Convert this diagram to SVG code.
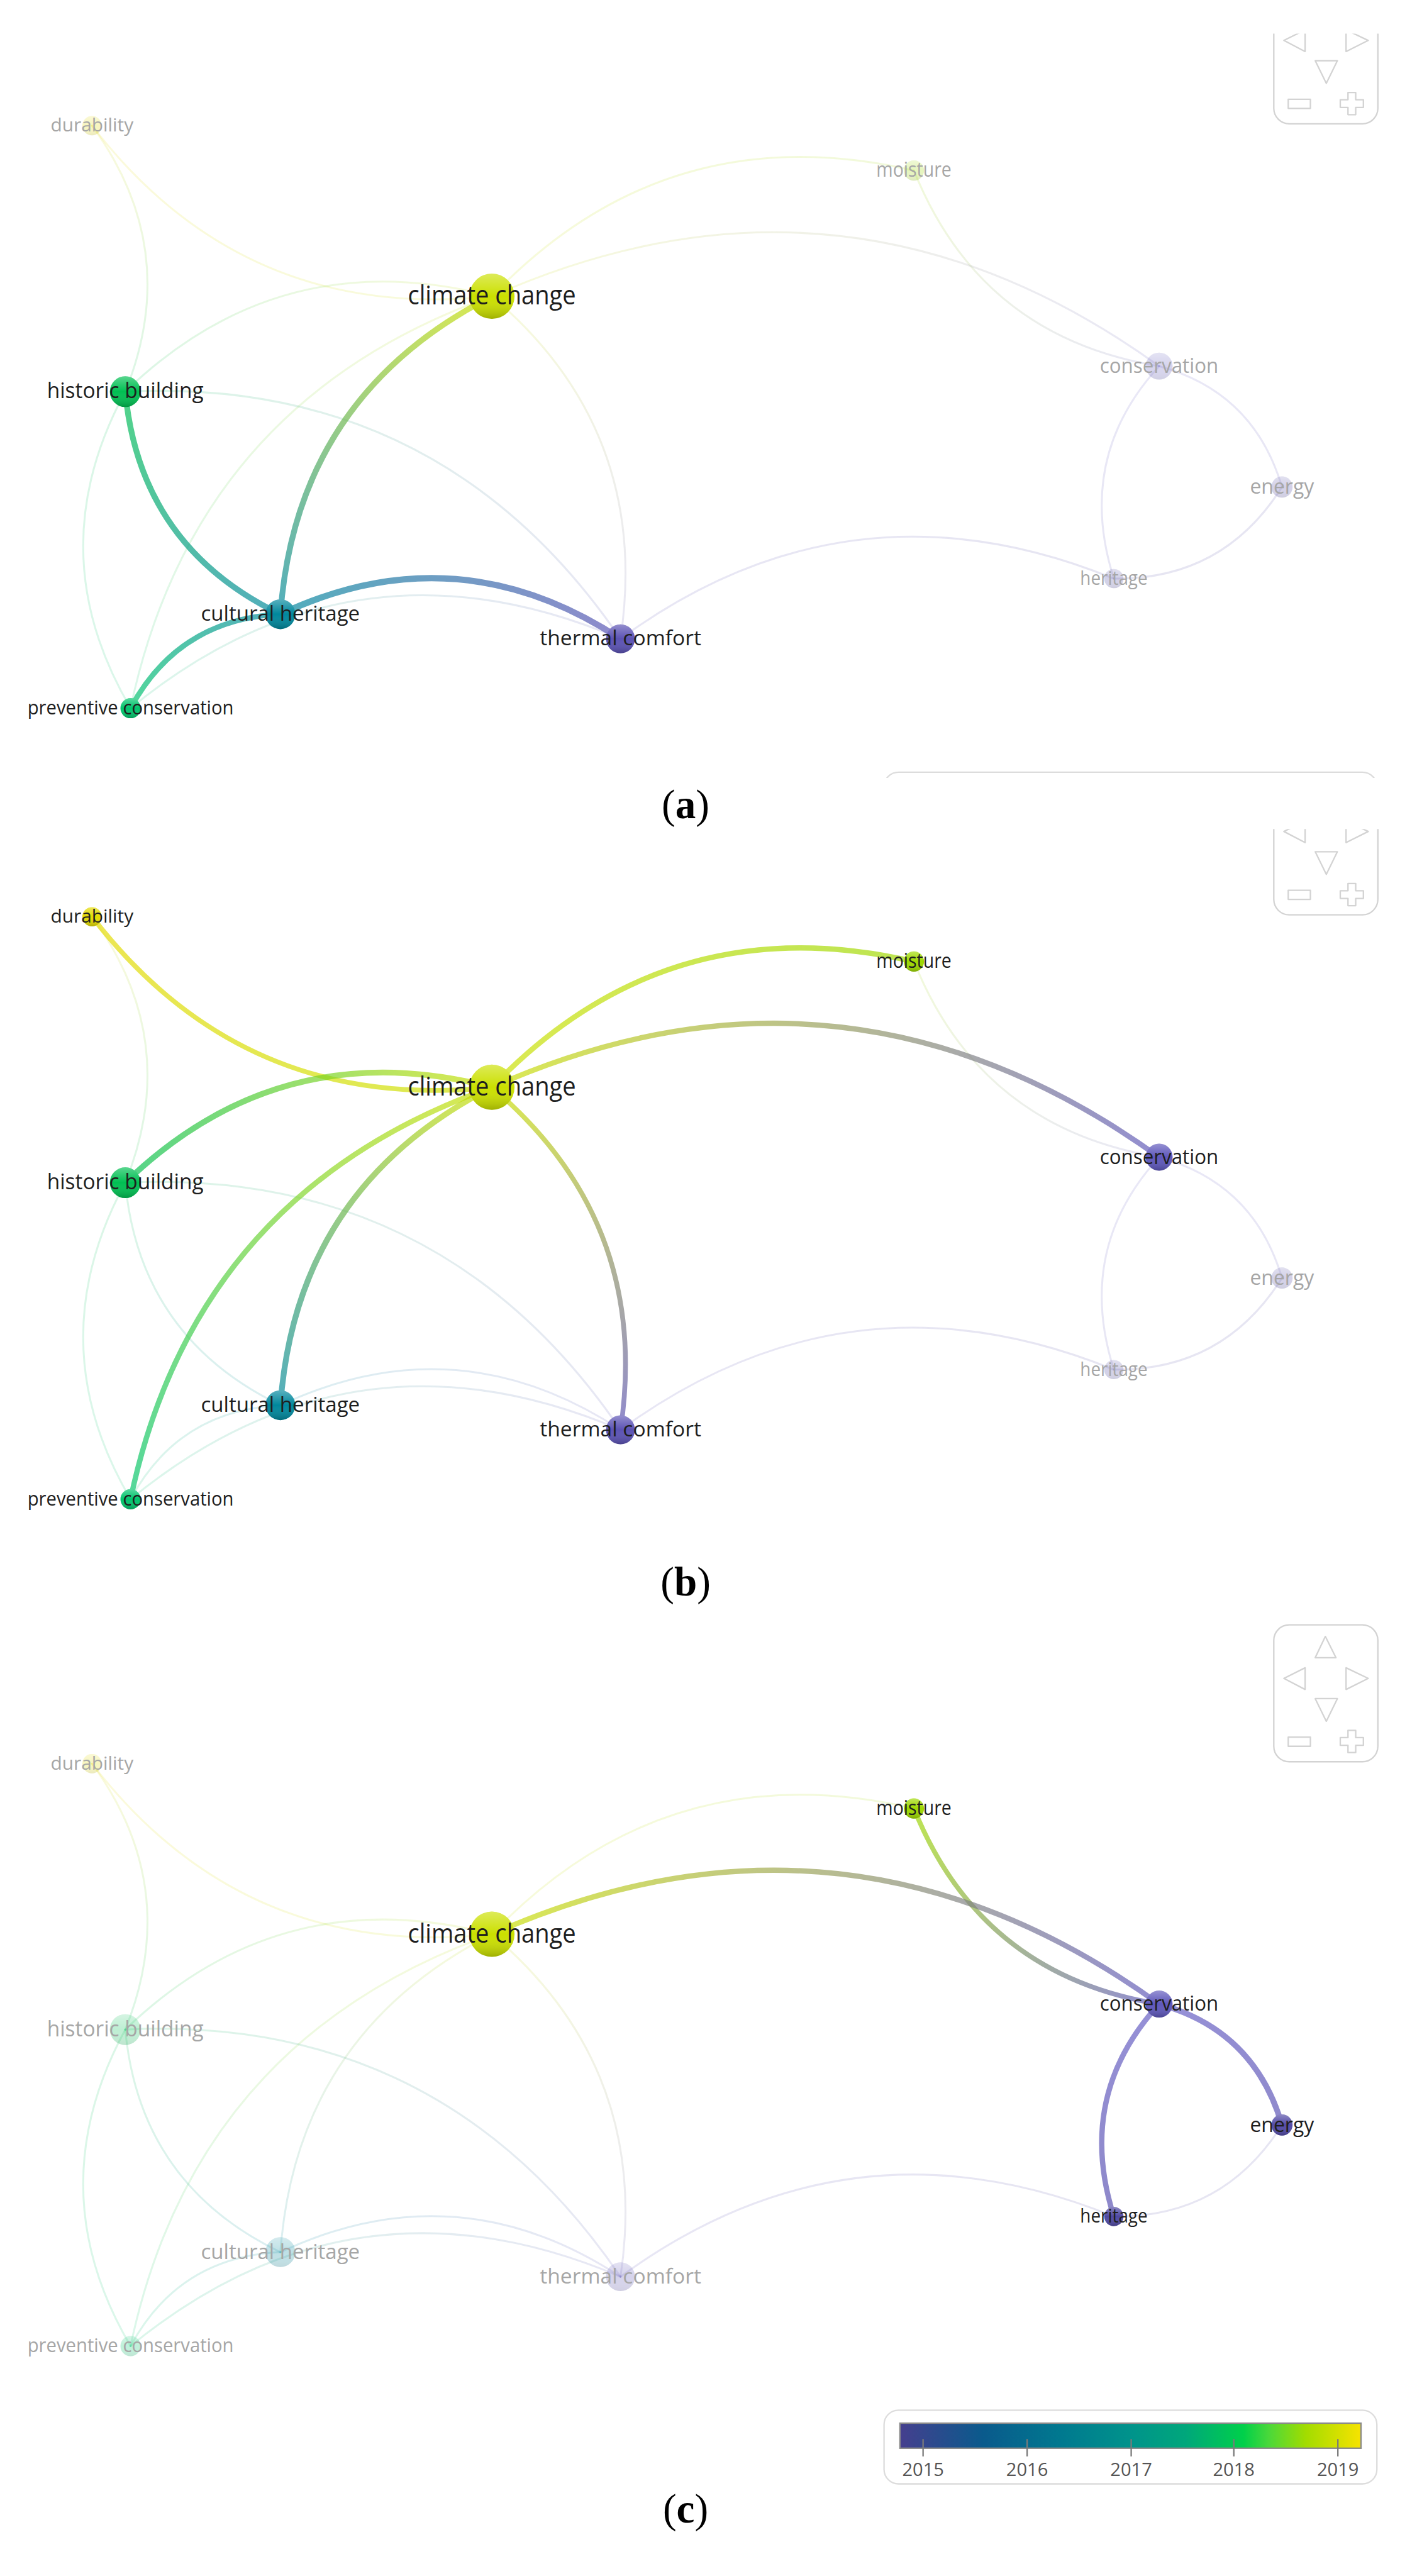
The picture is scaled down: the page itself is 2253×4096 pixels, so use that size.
<svg xmlns="http://www.w3.org/2000/svg" width="2253" height="4096" viewBox="0 0 2253 4096">
<defs>
<style>
.lbl{font-family:"Open Sans","Liberation Sans",sans-serif;text-anchor:middle}
.dark{fill:#1e1e1e}
.fade{fill:#a6a6a6}
.faint{fill:none;stroke-width:4;stroke-opacity:0.14;stroke-linecap:round}
.hi{fill:none;stroke-opacity:0.68;stroke-linecap:round}
.dim{opacity:0.25}
.nav{fill:none;stroke:#d3d3d3;stroke-width:3;stroke-linejoin:round}
.yr{font-family:"Open Sans","Liberation Sans",sans-serif;font-size:38px;fill:#555;text-anchor:middle}
.cap{font-family:"Liberation Serif","Times New Roman",serif;font-size:85px;fill:#000;text-anchor:middle}
</style>
<linearGradient id="shade" x1="0" y1="0" x2="0" y2="1">
<stop offset="0" stop-color="#fff" stop-opacity="0.35"/>
<stop offset="0.5" stop-color="#fff" stop-opacity="0"/>
<stop offset="1" stop-color="#000" stop-opacity="0.22"/>
</linearGradient>
<linearGradient id="yr" gradientUnits="userSpaceOnUse" x1="1868" y1="0" x2="2825" y2="0">
<stop offset="0" stop-color="#453f8e"/>
<stop offset="0.18" stop-color="#0a5a8c"/>
<stop offset="0.35" stop-color="#00798f"/>
<stop offset="0.5" stop-color="#00938b"/>
<stop offset="0.62" stop-color="#00a77b"/>
<stop offset="0.745" stop-color="#00d04a"/>
<stop offset="0.8" stop-color="#4ad83a"/>
<stop offset="0.88" stop-color="#a2dc00"/>
<stop offset="1" stop-color="#f7e300"/>
</linearGradient>
<linearGradient id="g1" gradientUnits="userSpaceOnUse" x1="191" y1="261" x2="1021" y2="615"><stop offset="0" stop-color="#e3da00"/><stop offset="1" stop-color="#cbe000"/></linearGradient>
<linearGradient id="g2" gradientUnits="userSpaceOnUse" x1="191" y1="261" x2="260" y2="813"><stop offset="0" stop-color="#e3da00"/><stop offset="1" stop-color="#00bf52"/></linearGradient>
<linearGradient id="g3" gradientUnits="userSpaceOnUse" x1="1021" y1="615" x2="1897" y2="354"><stop offset="0" stop-color="#cbe000"/><stop offset="1" stop-color="#9ed800"/></linearGradient>
<linearGradient id="g4" gradientUnits="userSpaceOnUse" x1="1897" y1="354" x2="2406" y2="760"><stop offset="0" stop-color="#9ed800"/><stop offset="1" stop-color="#5e57bb"/></linearGradient>
<linearGradient id="g5" gradientUnits="userSpaceOnUse" x1="1021" y1="615" x2="2406" y2="760"><stop offset="0" stop-color="#cbe000"/><stop offset="1" stop-color="#5e57bb"/></linearGradient>
<linearGradient id="g6" gradientUnits="userSpaceOnUse" x1="260" y1="813" x2="1021" y2="615"><stop offset="0" stop-color="#00bf52"/><stop offset="1" stop-color="#cbe000"/></linearGradient>
<linearGradient id="g7" gradientUnits="userSpaceOnUse" x1="1021" y1="615" x2="582" y2="1275"><stop offset="0" stop-color="#cbe000"/><stop offset="1" stop-color="#00879c"/></linearGradient>
<linearGradient id="g8" gradientUnits="userSpaceOnUse" x1="1021" y1="615" x2="271" y2="1470"><stop offset="0" stop-color="#cbe000"/><stop offset="1" stop-color="#00c46c"/></linearGradient>
<linearGradient id="g9" gradientUnits="userSpaceOnUse" x1="1021" y1="615" x2="1288" y2="1326"><stop offset="0" stop-color="#cbe000"/><stop offset="1" stop-color="#5b52b4"/></linearGradient>
<linearGradient id="g10" gradientUnits="userSpaceOnUse" x1="260" y1="813" x2="582" y2="1275"><stop offset="0" stop-color="#00bf52"/><stop offset="1" stop-color="#00879c"/></linearGradient>
<linearGradient id="g11" gradientUnits="userSpaceOnUse" x1="260" y1="813" x2="271" y2="1470"><stop offset="0" stop-color="#00bf52"/><stop offset="1" stop-color="#00c46c"/></linearGradient>
<linearGradient id="g12" gradientUnits="userSpaceOnUse" x1="260" y1="813" x2="1288" y2="1326"><stop offset="0" stop-color="#00bf52"/><stop offset="1" stop-color="#5b52b4"/></linearGradient>
<linearGradient id="g13" gradientUnits="userSpaceOnUse" x1="582" y1="1275" x2="1288" y2="1326"><stop offset="0" stop-color="#00879c"/><stop offset="1" stop-color="#5b52b4"/></linearGradient>
<linearGradient id="g14" gradientUnits="userSpaceOnUse" x1="582" y1="1275" x2="271" y2="1470"><stop offset="0" stop-color="#00879c"/><stop offset="1" stop-color="#00c46c"/></linearGradient>
<linearGradient id="g15" gradientUnits="userSpaceOnUse" x1="271" y1="1470" x2="1288" y2="1326"><stop offset="0" stop-color="#00c46c"/><stop offset="1" stop-color="#5b52b4"/></linearGradient>
<linearGradient id="g16" gradientUnits="userSpaceOnUse" x1="1288" y1="1326" x2="2312" y2="1201"><stop offset="0" stop-color="#5b52b4"/><stop offset="1" stop-color="#4f48a2"/></linearGradient>
<linearGradient id="g17" gradientUnits="userSpaceOnUse" x1="2406" y1="760" x2="2661" y2="1011"><stop offset="0" stop-color="#645cc4"/><stop offset="1" stop-color="#5a52b4"/></linearGradient>
<linearGradient id="g18" gradientUnits="userSpaceOnUse" x1="2406" y1="760" x2="2312" y2="1201"><stop offset="0" stop-color="#645cc4"/><stop offset="1" stop-color="#5850b0"/></linearGradient>
<linearGradient id="g19" gradientUnits="userSpaceOnUse" x1="2661" y1="1011" x2="2312" y2="1201"><stop offset="0" stop-color="#524aa6"/><stop offset="1" stop-color="#4f48a2"/></linearGradient>
<clipPath id="clipA" clipPathUnits="userSpaceOnUse"><rect x="0" y="70" width="2941" height="1545"/></clipPath>
<clipPath id="clipB" clipPathUnits="userSpaceOnUse"><rect x="0" y="79" width="2941" height="1500"/></clipPath>
</defs>
<rect x="0" y="0" width="2253" height="4096" fill="#fff"/>
<g transform="scale(0.766)">

<!-- ================= PANEL A ================= -->
<g id="panel-a">
<g id="a-connectors">
<path class="faint" stroke="url(#g1)" d="M191,261 Q506,670 1021,615"/>
<path class="faint" stroke="url(#g2)" d="M191,261 Q379,518 260,813"/>
<path class="faint" stroke="url(#g3)" d="M1021,615 Q1384,235 1897,354"/>
<path class="faint" stroke="url(#g4)" d="M1897,354 Q2036,700 2406,760"/>
<path class="faint" stroke="url(#g5)" d="M1021,615 Q1753,290 2406,760"/>
<path class="faint" stroke="url(#g6)" d="M260,813 Q583,501 1021,615"/>
<path class="faint" stroke="url(#g8)" d="M1021,615 Q405,833 271,1470"/>
<path class="faint" stroke="url(#g9)" d="M1021,615 Q1352,895 1288,1326"/>
<path class="faint" stroke="url(#g11)" d="M260,813 Q80,1145 271,1470"/>
<path class="faint" stroke="url(#g12)" d="M260,813 Q916,781 1288,1326"/>
<path class="faint" stroke="url(#g15)" d="M271,1470 Q735,1090 1288,1326"/>
<path class="faint" stroke="url(#g16)" d="M1288,1326 Q1764,978 2312,1201"/>
<path class="faint" stroke="url(#g17)" d="M2406,760 Q2603,814 2661,1011"/>
<path class="faint" stroke="url(#g18)" d="M2406,760 Q2232,950 2312,1201"/>
<path class="faint" stroke="url(#g19)" d="M2661,1011 Q2539,1204 2312,1201"/>
<path class="hi" stroke="url(#g7)" stroke-width="12" d="M1021,615 Q615,822 582,1275"/>
<path class="hi" stroke="url(#g10)" stroke-width="12" d="M260,813 Q290,1134 582,1275"/>
<path class="hi" stroke="url(#g13)" stroke-width="13" d="M582,1275 Q948,1103 1288,1326"/>
<path class="hi" stroke="url(#g14)" stroke-width="11" d="M582,1275 Q371,1285 271,1470"/>
</g>
<g id="a-nodes">
<g id="a-durability"><g class="dim"><circle cx="191" cy="261" r="20" fill="#e3da00"/><circle cx="191" cy="261" r="20" fill="url(#shade)"/></g><text class="lbl fade" x="191" y="273" font-size="39" textLength="172" lengthAdjust="spacingAndGlyphs">durability</text></g>
<g id="a-moisture"><g class="dim"><circle cx="1897" cy="354" r="21" fill="#9ed800"/><circle cx="1897" cy="354" r="21" fill="url(#shade)"/></g><text class="lbl fade" x="1897" y="367" font-size="42" textLength="156" lengthAdjust="spacingAndGlyphs">moisture</text></g>
<g id="a-conservation"><g class="dim"><circle cx="2406" cy="760" r="28" fill="#5e57bb"/><circle cx="2406" cy="760" r="28" fill="url(#shade)"/></g><text class="lbl fade" x="2406" y="774" font-size="44" textLength="246" lengthAdjust="spacingAndGlyphs">conservation</text></g>
<g id="a-energy"><g class="dim"><circle cx="2661" cy="1011" r="22" fill="#524aa6"/><circle cx="2661" cy="1011" r="22" fill="url(#shade)"/></g><text class="lbl fade" x="2661" y="1025" font-size="44" textLength="133" lengthAdjust="spacingAndGlyphs">energy</text></g>
<g id="a-heritage"><g class="dim"><circle cx="2312" cy="1201" r="20" fill="#4f48a2"/><circle cx="2312" cy="1201" r="20" fill="url(#shade)"/></g><text class="lbl fade" x="2312" y="1214" font-size="41" textLength="140" lengthAdjust="spacingAndGlyphs">heritage</text></g>
<g id="a-climate-change"><circle cx="1021" cy="615" r="47" fill="#cbe000"/><circle cx="1021" cy="615" r="47" fill="url(#shade)"/><text class="lbl dark" x="1021" y="632" font-size="54" textLength="349" lengthAdjust="spacingAndGlyphs">climate change</text></g>
<g id="a-historic-building"><circle cx="260" cy="813" r="32" fill="#00bf52"/><circle cx="260" cy="813" r="32" fill="url(#shade)"/><text class="lbl dark" x="260" y="827" font-size="46" textLength="325" lengthAdjust="spacingAndGlyphs">historic building</text></g>
<g id="a-cultural-heritage"><circle cx="582" cy="1275" r="31" fill="#00879c"/><circle cx="582" cy="1275" r="31" fill="url(#shade)"/><text class="lbl dark" x="582" y="1289" font-size="44" textLength="330" lengthAdjust="spacingAndGlyphs">cultural heritage</text></g>
<g id="a-thermal-comfort"><circle cx="1288" cy="1326" r="30" fill="#5b52b4"/><circle cx="1288" cy="1326" r="30" fill="url(#shade)"/><text class="lbl dark" x="1288" y="1340" font-size="44" textLength="335" lengthAdjust="spacingAndGlyphs">thermal comfort</text></g>
<g id="a-preventive-conservation"><circle cx="271" cy="1470" r="21" fill="#00c46c"/><circle cx="271" cy="1470" r="21" fill="url(#shade)"/><text class="lbl dark" x="271" y="1483" font-size="41" textLength="428" lengthAdjust="spacingAndGlyphs">preventive conservation</text></g>
</g>
<g id="a-nav" clip-path="url(#clipA)">
<rect class="nav" x="2644" y="-27" width="216" height="284" rx="32" fill="#fff"/>
<polygon class="nav" points="2751,-3 2773,41 2730,41"/>
<polygon class="nav" points="2665,84 2709,62 2709,107"/>
<polygon class="nav" points="2840,84 2794,62 2794,107"/>
<polygon class="nav" points="2730,126 2776,126 2753,173"/>
<rect class="nav" x="2674" y="206" width="46" height="19"/>
<path class="nav" d="M2798,192 h16 v15 h16 v16 h-16 v15 h-16 v-15 h-16 v-16 h16 z"/>
</g>
<g id="a-legend" clip-path="url(#clipA)">
<rect x="1835" y="1603" width="1023" height="153" rx="30" fill="#fff" stroke="#dcdcdc" stroke-width="3"/>
</g>
</g>
<text class="cap" x="1423" y="1698">(<tspan font-weight="bold">a</tspan>)</text>

<!-- ================= PANEL B ================= -->
<g id="panel-b" transform="translate(0,1642)">
<g id="b-connectors">
<path class="faint" stroke="url(#g2)" d="M191,261 Q379,518 260,813"/>
<path class="faint" stroke="url(#g4)" d="M1897,354 Q2036,700 2406,760"/>
<path class="faint" stroke="url(#g10)" d="M260,813 Q290,1134 582,1275"/>
<path class="faint" stroke="url(#g11)" d="M260,813 Q80,1145 271,1470"/>
<path class="faint" stroke="url(#g12)" d="M260,813 Q916,781 1288,1326"/>
<path class="faint" stroke="url(#g13)" d="M582,1275 Q948,1103 1288,1326"/>
<path class="faint" stroke="url(#g14)" d="M582,1275 Q371,1285 271,1470"/>
<path class="faint" stroke="url(#g15)" d="M271,1470 Q735,1090 1288,1326"/>
<path class="faint" stroke="url(#g16)" d="M1288,1326 Q1764,978 2312,1201"/>
<path class="faint" stroke="url(#g17)" d="M2406,760 Q2603,814 2661,1011"/>
<path class="faint" stroke="url(#g18)" d="M2406,760 Q2232,950 2312,1201"/>
<path class="faint" stroke="url(#g19)" d="M2661,1011 Q2539,1204 2312,1201"/>
<path class="hi" stroke="url(#g1)" stroke-width="10" d="M191,261 Q506,670 1021,615"/>
<path class="hi" stroke="url(#g3)" stroke-width="11" d="M1021,615 Q1384,235 1897,354"/>
<path class="hi" stroke="url(#g5)" stroke-width="11" d="M1021,615 Q1753,290 2406,760"/>
<path class="hi" stroke="url(#g6)" stroke-width="12" d="M260,813 Q583,501 1021,615"/>
<path class="hi" stroke="url(#g7)" stroke-width="12" d="M1021,615 Q615,822 582,1275"/>
<path class="hi" stroke="url(#g8)" stroke-width="11" d="M1021,615 Q405,833 271,1470"/>
<path class="hi" stroke="url(#g9)" stroke-width="10" d="M1021,615 Q1352,895 1288,1326"/>
</g>
<g id="b-nodes">
<g id="b-energy"><g class="dim"><circle cx="2661" cy="1011" r="22" fill="#524aa6"/><circle cx="2661" cy="1011" r="22" fill="url(#shade)"/></g><text class="lbl fade" x="2661" y="1025" font-size="44" textLength="133" lengthAdjust="spacingAndGlyphs">energy</text></g>
<g id="b-heritage"><g class="dim"><circle cx="2312" cy="1201" r="20" fill="#4f48a2"/><circle cx="2312" cy="1201" r="20" fill="url(#shade)"/></g><text class="lbl fade" x="2312" y="1214" font-size="41" textLength="140" lengthAdjust="spacingAndGlyphs">heritage</text></g>
<g id="b-durability"><circle cx="191" cy="261" r="20" fill="#e3da00"/><circle cx="191" cy="261" r="20" fill="url(#shade)"/><text class="lbl dark" x="191" y="273" font-size="39" textLength="172" lengthAdjust="spacingAndGlyphs">durability</text></g>
<g id="b-moisture"><circle cx="1897" cy="354" r="21" fill="#9ed800"/><circle cx="1897" cy="354" r="21" fill="url(#shade)"/><text class="lbl dark" x="1897" y="367" font-size="42" textLength="156" lengthAdjust="spacingAndGlyphs">moisture</text></g>
<g id="b-conservation"><circle cx="2406" cy="760" r="28" fill="#5e57bb"/><circle cx="2406" cy="760" r="28" fill="url(#shade)"/><text class="lbl dark" x="2406" y="774" font-size="44" textLength="246" lengthAdjust="spacingAndGlyphs">conservation</text></g>
<g id="b-climate-change"><circle cx="1021" cy="615" r="47" fill="#cbe000"/><circle cx="1021" cy="615" r="47" fill="url(#shade)"/><text class="lbl dark" x="1021" y="632" font-size="54" textLength="349" lengthAdjust="spacingAndGlyphs">climate change</text></g>
<g id="b-historic-building"><circle cx="260" cy="813" r="32" fill="#00bf52"/><circle cx="260" cy="813" r="32" fill="url(#shade)"/><text class="lbl dark" x="260" y="827" font-size="46" textLength="325" lengthAdjust="spacingAndGlyphs">historic building</text></g>
<g id="b-cultural-heritage"><circle cx="582" cy="1275" r="31" fill="#00879c"/><circle cx="582" cy="1275" r="31" fill="url(#shade)"/><text class="lbl dark" x="582" y="1289" font-size="44" textLength="330" lengthAdjust="spacingAndGlyphs">cultural heritage</text></g>
<g id="b-thermal-comfort"><circle cx="1288" cy="1326" r="30" fill="#5b52b4"/><circle cx="1288" cy="1326" r="30" fill="url(#shade)"/><text class="lbl dark" x="1288" y="1340" font-size="44" textLength="335" lengthAdjust="spacingAndGlyphs">thermal comfort</text></g>
<g id="b-preventive-conservation"><circle cx="271" cy="1470" r="21" fill="#00c46c"/><circle cx="271" cy="1470" r="21" fill="url(#shade)"/><text class="lbl dark" x="271" y="1483" font-size="41" textLength="428" lengthAdjust="spacingAndGlyphs">preventive conservation</text></g>
</g>
<g id="b-nav" clip-path="url(#clipB)">
<rect class="nav" x="2644" y="-27" width="216" height="284" rx="32" fill="#fff"/>
<polygon class="nav" points="2751,-3 2773,41 2730,41"/>
<polygon class="nav" points="2665,84 2709,62 2709,107"/>
<polygon class="nav" points="2840,84 2794,62 2794,107"/>
<polygon class="nav" points="2730,126 2776,126 2753,173"/>
<rect class="nav" x="2674" y="206" width="46" height="19"/>
<path class="nav" d="M2798,192 h16 v15 h16 v16 h-16 v15 h-16 v-15 h-16 v-16 h16 z"/>
</g>
</g>
<text class="cap" x="1423" y="3312">(<tspan font-weight="bold">b</tspan>)</text>

<!-- ================= PANEL C ================= -->
<g id="panel-c" transform="translate(0,3400)">
<g id="c-connectors">
<path class="faint" stroke="url(#g1)" d="M191,261 Q506,670 1021,615"/>
<path class="faint" stroke="url(#g2)" d="M191,261 Q379,518 260,813"/>
<path class="faint" stroke="url(#g3)" d="M1021,615 Q1384,235 1897,354"/>
<path class="faint" stroke="url(#g6)" d="M260,813 Q583,501 1021,615"/>
<path class="faint" stroke="url(#g7)" d="M1021,615 Q615,822 582,1275"/>
<path class="faint" stroke="url(#g8)" d="M1021,615 Q405,833 271,1470"/>
<path class="faint" stroke="url(#g9)" d="M1021,615 Q1352,895 1288,1326"/>
<path class="faint" stroke="url(#g10)" d="M260,813 Q290,1134 582,1275"/>
<path class="faint" stroke="url(#g11)" d="M260,813 Q80,1145 271,1470"/>
<path class="faint" stroke="url(#g12)" d="M260,813 Q916,781 1288,1326"/>
<path class="faint" stroke="url(#g13)" d="M582,1275 Q948,1103 1288,1326"/>
<path class="faint" stroke="url(#g14)" d="M582,1275 Q371,1285 271,1470"/>
<path class="faint" stroke="url(#g15)" d="M271,1470 Q735,1090 1288,1326"/>
<path class="faint" stroke="url(#g16)" d="M1288,1326 Q1764,978 2312,1201"/>
<path class="faint" stroke="url(#g19)" d="M2661,1011 Q2539,1204 2312,1201"/>
<path class="hi" stroke="url(#g4)" stroke-width="10" d="M1897,354 Q2036,700 2406,760"/>
<path class="hi" stroke="url(#g5)" stroke-width="11" d="M1021,615 Q1753,290 2406,760"/>
<path class="hi" stroke="url(#g17)" stroke-width="12" d="M2406,760 Q2603,814 2661,1011"/>
<path class="hi" stroke="url(#g18)" stroke-width="11" d="M2406,760 Q2232,950 2312,1201"/>
</g>
<g id="c-nodes">
<g id="c-durability"><g class="dim"><circle cx="191" cy="261" r="20" fill="#e3da00"/><circle cx="191" cy="261" r="20" fill="url(#shade)"/></g><text class="lbl fade" x="191" y="273" font-size="39" textLength="172" lengthAdjust="spacingAndGlyphs">durability</text></g>
<g id="c-historic-building"><g class="dim"><circle cx="260" cy="813" r="32" fill="#00bf52"/><circle cx="260" cy="813" r="32" fill="url(#shade)"/></g><text class="lbl fade" x="260" y="827" font-size="46" textLength="325" lengthAdjust="spacingAndGlyphs">historic building</text></g>
<g id="c-cultural-heritage"><g class="dim"><circle cx="582" cy="1275" r="31" fill="#00879c"/><circle cx="582" cy="1275" r="31" fill="url(#shade)"/></g><text class="lbl fade" x="582" y="1289" font-size="44" textLength="330" lengthAdjust="spacingAndGlyphs">cultural heritage</text></g>
<g id="c-thermal-comfort"><g class="dim"><circle cx="1288" cy="1326" r="30" fill="#5b52b4"/><circle cx="1288" cy="1326" r="30" fill="url(#shade)"/></g><text class="lbl fade" x="1288" y="1340" font-size="44" textLength="335" lengthAdjust="spacingAndGlyphs">thermal comfort</text></g>
<g id="c-preventive-conservation"><g class="dim"><circle cx="271" cy="1470" r="21" fill="#00c46c"/><circle cx="271" cy="1470" r="21" fill="url(#shade)"/></g><text class="lbl fade" x="271" y="1483" font-size="41" textLength="428" lengthAdjust="spacingAndGlyphs">preventive conservation</text></g>
<g id="c-climate-change"><circle cx="1021" cy="615" r="47" fill="#cbe000"/><circle cx="1021" cy="615" r="47" fill="url(#shade)"/><text class="lbl dark" x="1021" y="632" font-size="54" textLength="349" lengthAdjust="spacingAndGlyphs">climate change</text></g>
<g id="c-moisture"><circle cx="1897" cy="354" r="21" fill="#9ed800"/><circle cx="1897" cy="354" r="21" fill="url(#shade)"/><text class="lbl dark" x="1897" y="367" font-size="42" textLength="156" lengthAdjust="spacingAndGlyphs">moisture</text></g>
<g id="c-conservation"><circle cx="2406" cy="760" r="28" fill="#5e57bb"/><circle cx="2406" cy="760" r="28" fill="url(#shade)"/><text class="lbl dark" x="2406" y="774" font-size="44" textLength="246" lengthAdjust="spacingAndGlyphs">conservation</text></g>
<g id="c-energy"><circle cx="2661" cy="1011" r="22" fill="#524aa6"/><circle cx="2661" cy="1011" r="22" fill="url(#shade)"/><text class="lbl dark" x="2661" y="1025" font-size="44" textLength="133" lengthAdjust="spacingAndGlyphs">energy</text></g>
<g id="c-heritage"><circle cx="2312" cy="1201" r="20" fill="#4f48a2"/><circle cx="2312" cy="1201" r="20" fill="url(#shade)"/><text class="lbl dark" x="2312" y="1214" font-size="41" textLength="140" lengthAdjust="spacingAndGlyphs">heritage</text></g>
</g>
<g id="c-nav">
<rect class="nav" x="2644" y="-27" width="216" height="284" rx="32" fill="#fff"/>
<polygon class="nav" points="2751,-3 2773,41 2730,41"/>
<polygon class="nav" points="2665,84 2709,62 2709,107"/>
<polygon class="nav" points="2840,84 2794,62 2794,107"/>
<polygon class="nav" points="2730,126 2776,126 2753,173"/>
<rect class="nav" x="2674" y="206" width="46" height="19"/>
<path class="nav" d="M2798,192 h16 v15 h16 v16 h-16 v15 h-16 v-15 h-16 v-16 h16 z"/>
</g>
<g id="c-legend">
<rect x="1835" y="1603" width="1023" height="153" rx="30" fill="#fff" stroke="#dcdcdc" stroke-width="3"/>
<rect x="1868" y="1630" width="957" height="52" fill="url(#yr)" stroke="#8a8a8a" stroke-width="3"/>
<g stroke="#7a7a7a" stroke-width="3">
<line x1="1916" y1="1663" x2="1916" y2="1699"/>
<line x1="2132" y1="1663" x2="2132" y2="1699"/>
<line x1="2348" y1="1663" x2="2348" y2="1699"/>
<line x1="2561" y1="1663" x2="2561" y2="1699"/>
<line x1="2777" y1="1663" x2="2777" y2="1699"/>
</g>
<text class="yr" x="1916" y="1740">2015</text>
<text class="yr" x="2132" y="1740">2016</text>
<text class="yr" x="2348" y="1740">2017</text>
<text class="yr" x="2561" y="1740">2018</text>
<text class="yr" x="2777" y="1740">2019</text>
</g>
</g>
<text class="cap" x="1423" y="5236">(<tspan font-weight="bold">c</tspan>)</text>
</g>
</svg>
